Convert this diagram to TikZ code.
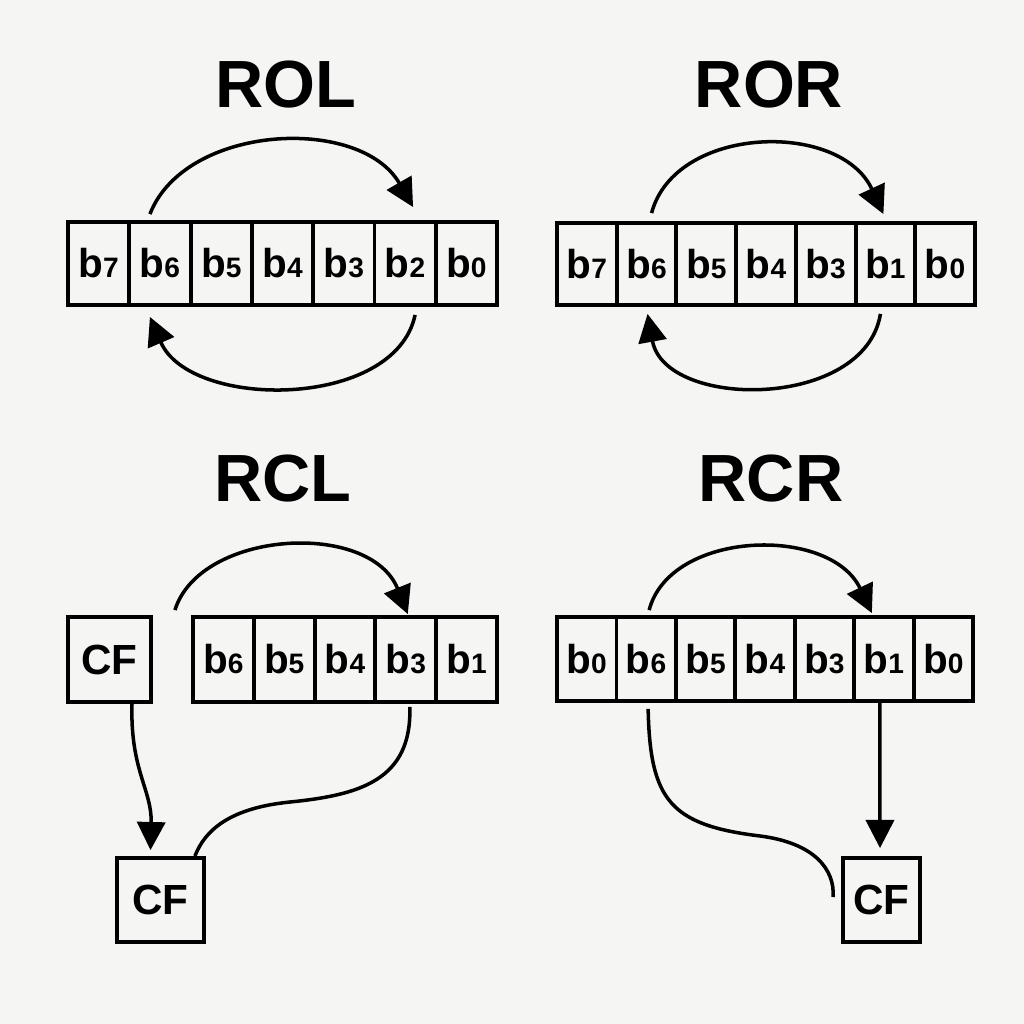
\documentclass[tikz,border=0pt]{standalone}
\usepackage{fontspec}
\setmainfont{Liberation Sans}
\usetikzlibrary{arrows.meta,calc}
\definecolor{bg}{RGB}{245,245,243}
\newcommand{\bitlbl}[1]{\fontsize{23}{25}\bfseries\selectfont b{\fontsize{16}{18}\selectfont #1}}
\begin{document}
\begin{tikzpicture}[x=0.02cm,y=-0.02cm,
  cell/.style={draw, line width=2.2pt, fill=bg, inner sep=0pt},
  ttl/.style={font=\fontsize{38}{40}\bfseries\selectfont},
  cftxt/.style={cell, font=\fontsize{24}{26}\bfseries\selectfont},
  con/.style={line width=2pt},
  arr/.style={con, -{Triangle[length=16pt,width=16pt]}}
]
\fill[bg] (0,0) rectangle (1024,1024);
\useasboundingbox (0,0) rectangle (1024,1024);

% titles
\node[ttl] (tROL) at (286,85) {ROL};
\node[ttl] (tROR) at (769,85) {ROR};
\node[ttl] (tRCL) at (283,479) {RCL};
\node[ttl] (tRCR) at (771,479) {RCR};

% ROL register
\foreach \l [count=\i from 0] in {7,6,5,4,3,2,0}
  \node[cell, minimum width=1.2258cm, minimum height=1.66cm] (a\i) at ({68+61.29*(\i+0.5)},263.5) {\bitlbl{\l}};
% ROR register
\foreach \l [count=\i from 0] in {7,6,5,4,3,1,0}
  \node[cell, minimum width=1.1942cm, minimum height=1.64cm] (b\i) at ({557+59.71*(\i+0.5)},264) {\bitlbl{\l}};
% RCL register
\node[cftxt, minimum width=1.66cm, minimum height=1.7cm] (cf1) at (109.5,659.5) {CF};
\foreach \l [count=\i from 0] in {6,5,4,3,1}
  \node[cell, minimum width=1.216cm, minimum height=1.7cm] (c\i) at ({193+60.8*(\i+0.5)},659.5) {\bitlbl{\l}};
\node[cftxt, minimum width=1.74cm, minimum height=1.68cm] (cf2) at (160.5,900) {CF};
% RCR register
\foreach \l [count=\i from 0] in {0,6,5,4,3,1,0}
  \node[cell, minimum width=1.1886cm, minimum height=1.68cm] (d\i) at ({557+59.43*(\i+0.5)},659) {\bitlbl{\l}};
\node[cftxt, minimum width=1.54cm, minimum height=1.68cm] (cf3) at (881.5,900) {CF};

% ROL arcs
\draw[arr] ($(a1.north)+(-10,-6)$) .. controls (185,124) and (360,115) .. ($(a5.north)+(8,-13)$);
\draw[arr] ($(a5.south)+(10,8)$) .. controls (395,410) and (190,410) .. ($(a1.south)+(-10,10)$);

% ROR arcs
\draw[arr] ($(b1.north)+(5,-8)$) .. controls (675,125) and (840,120) .. ($(b5.north)+(-2,-7)$);
\draw[arr] ($(b5.south)+(-5,7)$) .. controls (865,410) and (665,410) .. ($(b1.south)+(1,7)$);

% RCL
\coordinate (rclstart) at ($(cf1.north east)+(22,-5)$);
\draw[arr] (rclstart) .. controls (200,530) and (370,520) .. ($(c3.north)+(2,-1)$);
\draw[arr] ($(cf1.south)+(22.5,0)$) .. controls (130,770) and (152,790) .. ($(cf2.north)+(-10,-6)$);
\draw[con] ($(c3.south)+(4,3)$) .. controls (412,780) and (360,795) .. (290,802)
  .. controls (230,808) and (205,830) .. ($(cf2.north east)+(-11,0)$);

% RCR
\draw[arr] ($(d1.north)+(3,-5)$) .. controls (670,530) and (830,525) .. ($(d5.north)+(-12,-2)$);
\draw[arr] ($(d5.south)+(-4,0)$) -- ($(cf3.north)+(-1.5,-8)$);
\coordinate (rcrend) at ($(cf3.west)+(-8,-3)$);
\draw[con] ($(d1.south)+(2,6)$) .. controls (650,800) and (670,825) .. (760,836)
  .. controls (815,843) and (835,870) .. (rcrend);
\end{tikzpicture}
\end{document}
